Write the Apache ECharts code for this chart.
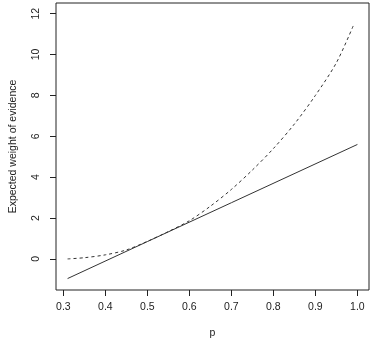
<!DOCTYPE html>
<html>
<head>
    <meta charset="UTF-8">
    <title>Expected weight of evidence</title>
    <style type="text/css">
        *{
            margin: 0;padding: 0;
        }
        body{ background: #fff; }
        #main{
            width: 372px;
            height: 344px;
        }
    </style>
    <script src="https://cdn.jsdelivr.net/npm/echarts@6/dist/echarts.min.js" type="text/javascript" charset="utf-8"></script>
</head>
<body>
<div id="main"></div>
<script type="text/javascript">
    // 数据
    var dashedP = [0.31, 0.35, 0.4, 0.45, 0.5, 0.55, 0.6, 0.65, 0.7, 0.75, 0.8, 0.85, 0.9, 0.95, 0.99];
    var dashedW = [0.0, 0.06, 0.2, 0.44, 0.86, 1.34, 1.87, 2.58, 3.4, 4.35, 5.4, 6.6, 8.0, 9.6, 11.4];
    var solidP = [0.31, 0.5, 0.7, 1.0];
    var solidW = [-0.96, 0.85, 2.75, 5.6];
    var xTicks = [0.3, 0.4, 0.5, 0.6, 0.7, 0.8, 0.9, 1.0];
    var yTicks = [0, 2, 4, 6, 8, 10, 12];

    function pairs(xs, ys) {
        var out = [];
        for (var i = 0; i < xs.length; i++) {
            out.push([xs[i], ys[i]]);
        }
        return out;
    }

    var myChart = echarts.init(document.getElementById('main'));
    var font = 'Liberation Sans';

    option = {
        animation: false,
        backgroundColor: '#fff',
        grid: {
            left: 43,
            right: 3,
            top: 3,
            bottom: 49,
            show: true,
            borderColor: '#222',
            borderWidth: 1,
            containLabel: false
        },
        xAxis: {
            type: 'value',
            min: 0.2824,
            max: 1.0276,
            name: 'p',
            nameLocation: 'middle',
            nameGap: 38,
            nameTextStyle: {color: '#222', fontFamily: font, fontSize: 10.5},
            axisLine: {show: false, onZero: false},
            splitLine: {show: false},
            axisTick: {
                show: true,
                length: 6,
                customValues: xTicks,
                lineStyle: {color: '#222', width: 1}
            },
            axisLabel: {
                customValues: xTicks,
                margin: 12,
                color: '#222',
                fontFamily: font,
                fontSize: 10.5,
                formatter: function (v) { return v.toFixed(1); }
            }
        },
        yAxis: {
            type: 'value',
            min: -1.52,
            max: 12.52,
            name: 'Expected weight of evidence',
            nameLocation: 'middle',
            nameRotate: 90,
            nameGap: 37,
            nameTextStyle: {color: '#222', fontFamily: font, fontSize: 10.5},
            axisLine: {show: false, onZero: false},
            splitLine: {show: false},
            axisTick: {
                show: true,
                length: 6,
                customValues: yTicks,
                lineStyle: {color: '#222', width: 1}
            },
            axisLabel: {
                customValues: yTicks,
                rotate: 90,
                margin: 14,
                color: '#222',
                fontFamily: font,
                fontSize: 10.5
            }
        },
        series: [
            {
                name: 'dashed',
                type: 'line',
                data: pairs(dashedP, dashedW),
                showSymbol: false,
                smooth: 0.3,
                lineStyle: {color: '#333', width: 1, type: [3, 3]}
            },
            {
                name: 'solid',
                type: 'line',
                data: pairs(solidP, solidW),
                showSymbol: false,
                lineStyle: {color: '#333', width: 1}
            }
        ]
    };
    myChart.setOption(option);
</script>
</body>
</html>
